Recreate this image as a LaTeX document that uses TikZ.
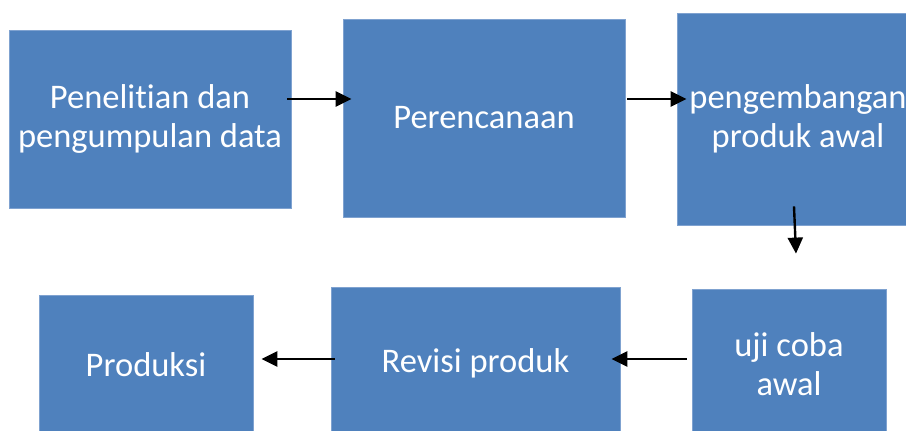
\documentclass[tikz,border=0pt]{standalone}
\usepackage{fontspec}
\setmainfont[Ligatures={NoCommon}]{Carlito}
\usetikzlibrary{calc,arrows.meta}
\definecolor{boxblue}{HTML}{4F81BD}
\definecolor{boxedge}{HTML}{7FA2D0}
\tikzset{
  stepbox/.style={rectangle, fill=boxblue, draw=boxedge, line width=0.8pt, text=white, align=center,
    font=\fontsize{34.5pt}{38.5pt}\selectfont, inner sep=0pt},
  flow/.style={draw=black, line width=2.4pt, -{Triangle[length=16pt,width=15pt]}}
}
\begin{document}
\begin{tikzpicture}[x=1pt,y=-1pt]
\clip (0,0) rectangle (906,431);
\fill[white] (0,0) rectangle (906,431);
\node[stepbox, minimum width=282pt, minimum height=178pt] (b1) at (150,119) {Penelitian dan\\pengumpulan data};
\node[stepbox, minimum width=282pt, minimum height=198pt] (b2) at (484,118) {Perencanaan};
\node[stepbox, minimum width=242pt, minimum height=212pt] (b3) at (798,119) {pengembangan\\produk awal};
\node[stepbox, minimum width=194pt, minimum height=150pt] (b4) at (789,364) {uji coba\\awal};
\node[stepbox, minimum width=289pt, minimum height=152pt] (b5) at (475.5,363) {Revisi produk};
\node[stepbox, minimum width=214pt, minimum height=140pt] (b6) at (146,365) {Produksi};
\draw[flow] ($(b1.east)+(-4,-20)$) -- ($(b2.west)+(9,-19)$);
\draw[flow] ($(b2.east)+(2,-19)$) -- ($(b3.west)+(10,-20)$);
\draw[flow] ($(b3.south)+(-4,-19)$) -- ($(b4.north)+(7,-35)$);
\draw[flow] ($(b4.west)+(-5,-5)$) -- ($(b5.east)+(-9,-4)$);
\draw[flow] ($(b5.west)+(4,-4)$) -- ($(b6.east)+(8,-6)$);
\end{tikzpicture}
\end{document}
